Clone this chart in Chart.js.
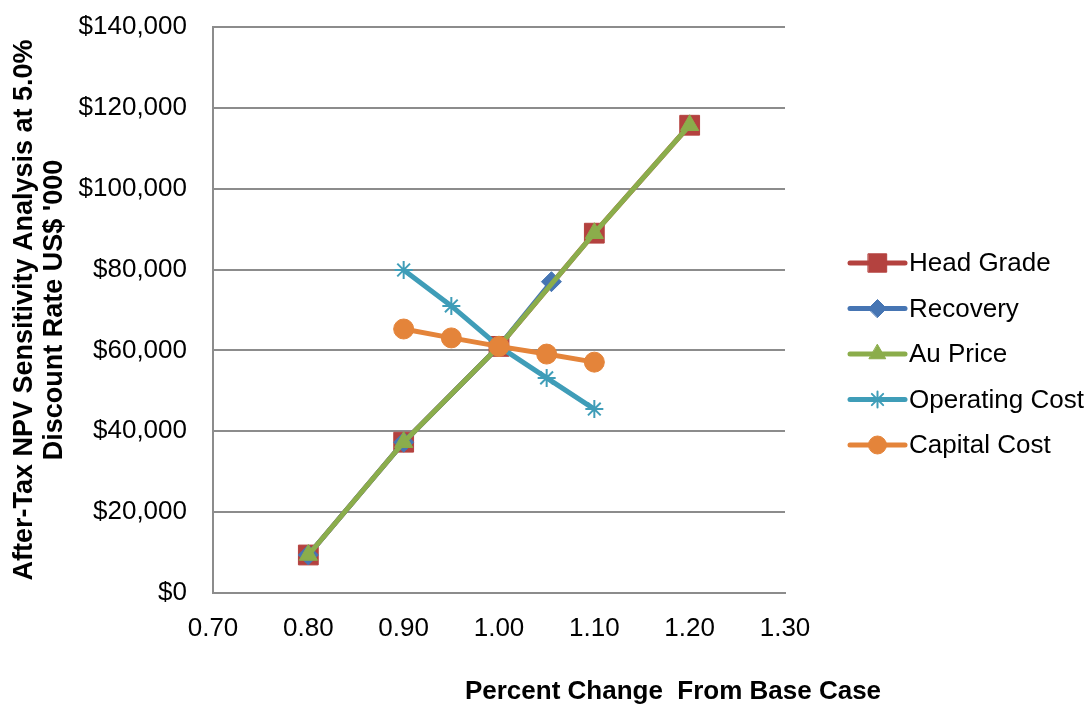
<!DOCTYPE html>
<html>
<head>
<meta charset="utf-8">
<script src="https://cdn.jsdelivr.net/npm/chart.js@4.4.0/dist/chart.umd.min.js"></script>
<style>
  html, body { margin: 0; padding: 0; background: #fff; }
  #wrap { width: 1091px; height: 705px; }
</style>
</head>
<body>
<div id="wrap"><canvas id="npvChart" width="1091" height="705"></canvas></div>
<script>
// data
const seriesNames = ['Head Grade', 'Recovery', 'Au Price', 'Operating Cost', 'Capital Cost'];
const headGradeX = [0.80, 0.90, 1.00, 1.10, 1.20];
const headGradeY = [9400, 37300, 61000, 89000, 115700];
const recoveryX = [0.80, 0.90, 1.00, 1.055];
const recoveryY = [9400, 37300, 61000, 77000];
const auPriceX = [0.80, 0.90, 1.00, 1.10, 1.20];
const auPriceY = [9400, 37300, 61000, 89000, 115700];
const opCostX = [0.90, 0.95, 1.00, 1.05, 1.10];
const opCostY = [79900, 71000, 61000, 53200, 45500];
const capCostX = [0.90, 0.95, 1.00, 1.05, 1.10];
const capCostY = [65300, 63100, 61000, 59100, 57100];
const xTicks = [0.70, 0.80, 0.90, 1.00, 1.10, 1.20, 1.30];
const yTicks = [0, 20000, 40000, 60000, 80000, 100000, 120000, 140000];

const Color = {
    Red: '#B4423F',
    Blue: '#4675B3',
    Green: '#8BAD4B',
    Teal: '#3F9DB8',
    Orange: '#E4843A',
};

const FONT = '"Liberation Sans", Arial, sans-serif';

function toPoints(xs, ys) {
    return xs.map((x, i) => ({ x: x, y: ys[i] }));
}

function getDataSetEntry(label, data, color, style, radius, order) {
    return {
        label,
        data,
        order,
        borderColor: color,
        backgroundColor: color,
        borderWidth: 5,
        pointStyle: style,
        pointRadius: radius,
        pointBorderWidth: style === 'star' ? 2 : 1,
        pointBorderColor: color,
        pointBackgroundColor: color,
        fill: false,
        tension: 0,
    };
}

const datasets = [
    getDataSetEntry(seriesNames[0], toPoints(headGradeX, headGradeY), Color.Red, 'rect', 14, 5),
    getDataSetEntry(seriesNames[1], toPoints(recoveryX, recoveryY), Color.Blue, 'rectRot', 10, 4),
    getDataSetEntry(seriesNames[2], toPoints(auPriceX, auPriceY), Color.Green, 'triangle', 10.5, 3),
    getDataSetEntry(seriesNames[3], toPoints(opCostX, opCostY), Color.Teal, 'star', 9, 2),
    getDataSetEntry(seriesNames[4], toPoints(capCostX, capCostY), Color.Orange, 'circle', 10, 1),
];

// legend with a short line through each marker, drawn at the right
const lineLegend = {
    id: 'lineLegend',
    afterDraw(chart) {
        const ctx = chart.ctx;
        const area = chart.chartArea;
        const x0 = area.right + 65;
        const x1 = x0 + 55;
        ctx.save();
        chart.data.datasets.forEach((ds, i) => {
            const y = 263 + i * 45.5;
            ctx.strokeStyle = ds.borderColor;
            ctx.lineWidth = 5;
            ctx.lineCap = 'round';
            ctx.beginPath();
            ctx.moveTo(x0, y);
            ctx.lineTo(x1, y);
            ctx.stroke();
            ctx.fillStyle = ds.pointBackgroundColor;
            ctx.strokeStyle = ds.pointBorderColor;
            ctx.lineWidth = ds.pointBorderWidth;
            Chart.helpers.drawPoint(ctx, {
                pointStyle: ds.pointStyle,
                radius: ds.pointRadius - 1,
                rotation: 0,
                borderWidth: ds.pointBorderWidth,
            }, (x0 + x1) / 2, y);
            ctx.fillStyle = '#000';
            ctx.font = '26px ' + FONT;
            ctx.textAlign = 'left';
            ctx.textBaseline = 'middle';
            ctx.fillText(ds.label, x1 + 4, y + 1);
        });
        // x axis title, offset to the right as in the source
        ctx.font = 'bold 26px ' + FONT;
        ctx.textAlign = 'center';
        ctx.fillText('Percent Change  From Base Case', 673, 692);
        ctx.restore();
    },
};

const ctx = document.getElementById('npvChart').getContext('2d');
new Chart(ctx, {
    type: 'line',
    data: { datasets },
    options: {
        responsive: false,
        animation: false,
        layout: { padding: { top: 27, right: 306, bottom: 0, left: 0 } },
        plugins: { legend: { display: false }, tooltip: { enabled: false } },
        scales: {
            x: {
                type: 'linear',
                min: xTicks[0],
                max: xTicks[xTicks.length - 1],
                afterBuildTicks: (scale) => { scale.ticks = xTicks.map(v => ({ value: v })); },
                afterFit: (scale) => {
                    scale.height = 112;
                    scale.paddingLeft = 0;
                    scale.paddingRight = 0;
                },
                grid: { display: false, drawTicks: false },
                border: { color: '#8c8c8c', width: 2 },
                ticks: {
                    padding: 20,
                    color: '#000',
                    font: { family: FONT, size: 26 },
                    callback: (v) => Number(v).toFixed(2),
                },
            },
            y: {
                type: 'linear',
                min: yTicks[0],
                max: yTicks[yTicks.length - 1],
                afterBuildTicks: (scale) => { scale.ticks = yTicks.map(v => ({ value: v })); },
                afterFit: (scale) => {
                    scale.width = 213;
                    scale.paddingTop = 0;
                    scale.paddingBottom = 0;
                },
                grid: { color: '#8c8c8c', lineWidth: 2, drawTicks: false },
                border: { color: '#8c8c8c', width: 2 },
                ticks: {
                    padding: 26,
                    color: '#000',
                    font: { family: FONT, size: 26 },
                    callback: (v) => '$' + Number(v).toLocaleString('en-US'),
                },
                title: {
                    display: true,
                    text: ['After-Tax NPV Sensitivity Analysis at 5.0%', 'Discount Rate US$ \'000'],
                    color: '#000',
                    font: { family: FONT, size: 27, weight: 'bold', lineHeight: 1.12 },
                    padding: { top: 9, bottom: 0 },
                },
            },
        },
    },
    plugins: [lineLegend],
});
</script>
</body>
</html>
